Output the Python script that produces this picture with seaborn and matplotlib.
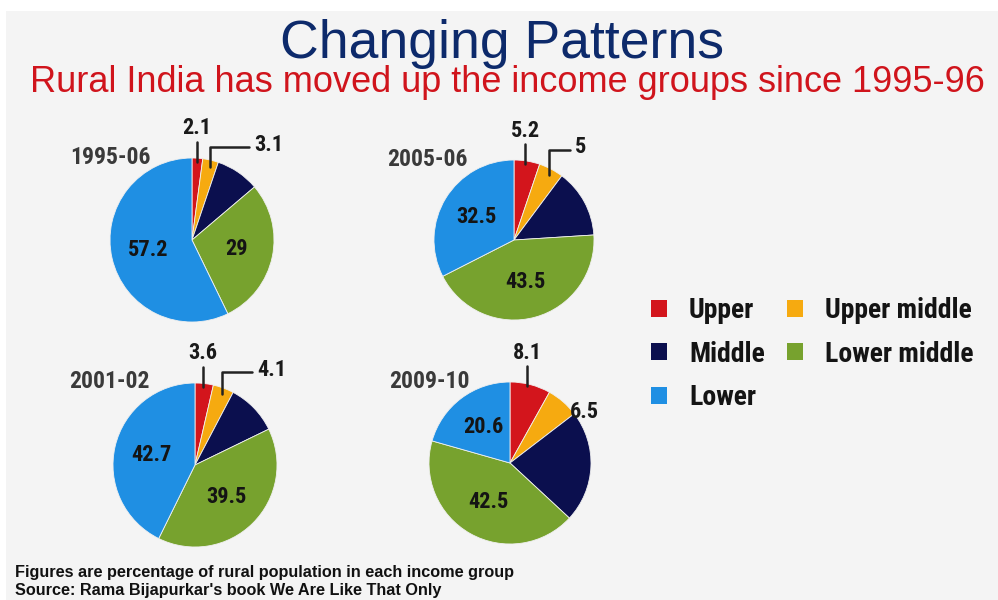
import numpy as np
import matplotlib
matplotlib.use("Agg")
import matplotlib.pyplot as plt
from matplotlib import font_manager as fm
from matplotlib.patches import Rectangle, Patch
import seaborn as sns

# ---- data -------------------------------------------------------------
years = ["1995-06", "2005-06", "2001-02", "2009-10"]
groups = ["Upper", "Upper middle", "Middle", "Lower middle", "Lower"]
upper = [2.1, 5.2, 3.6, 8.1]
upper_middle = [3.1, 5.0, 4.1, 6.5]
middle = [8.6, 13.8, 10.1, 22.3]
lower_middle = [29.0, 43.5, 39.5, 42.5]
lower = [57.2, 32.5, 42.7, 20.6]

colors = ["#d3151c", "#f6aa10", "#0b0f4e", "#77a22e", "#1f8fe3"]

title = "Changing Patterns"
subtitle = "Rural India has moved up the income groups since 1995-96"
notes = ["Figures are percentage of rural population in each income group",
         "Source: Rama Bijapurkar's book We Are Like That Only"]

# ---- fonts ------------------------------------------------------------
sns.set_theme(style="white")
plt.rcParams["font.family"] = ["Liberation Sans", "DejaVu Sans"]


def pick_condensed():
    """Return text kwargs for a narrow bold face, plus a size factor."""
    tries = [
        (dict(family="Liberation Sans Narrow"), 1.0),
        (dict(family="Roboto Condensed"), 1.0),
        (dict(family="DejaVu Sans", fontstretch="condensed"), 0.92),
    ]
    for kw, f in tries:
        fp = fm.FontProperties(family=kw["family"], weight="bold",
                               stretch=kw.get("fontstretch", "normal"))
        try:
            path = fm.findfont(fp, fallback_to_default=False)
        except Exception:
            continue
        name = path.lower()
        if "narrow" in name or "condensed" in name:
            return kw, f
    return dict(family="Liberation Sans"), 0.86


COND, SF = pick_condensed()

# ---- layout (pixel based) ---------------------------------------------
W, H = 998, 600
fig = plt.figure(figsize=(W / 100, H / 100), dpi=100)
fig.patch.set_facecolor("white")


def fx(x):
    return x / W


def fy(y):
    return 1 - y / H


fig.add_artist(Rectangle((fx(6), 0), 1, fy(11), transform=fig.transFigure,
                         facecolor="#f4f4f4", edgecolor="none", zorder=-10))

fig.text(fx(502), fy(44), title, ha="center", va="center", fontsize=38.5,
         color="#0d2a6b")
fig.text(fx(507), fy(83), subtitle, ha="center", va="center", fontsize=26,
         color="#d0141c")

# pie centres / radius in pixels
centres = [(192, 240, 82), (514, 240, 80), (195, 465, 82), (510, 463, 81)]
year_pos = [(110, 157), (427, 160), (109, 382), (429, 382)]
um_leader = [True, True, True, False]

for i, (cx, cy, r) in enumerate(centres):
    ax = fig.add_axes([fx(cx - r), fy(cy + r), 2 * r / W, 2 * r / H])
    vals = [upper[i], upper_middle[i], middle[i], lower_middle[i], lower[i]]
    wedges, _ = ax.pie(vals, colors=colors, startangle=90, counterclock=False,
                       wedgeprops=dict(edgecolor="#f0f0f0", linewidth=0.6))
    ax.set_xlim(-1, 1)
    ax.set_ylim(-1, 1)

    # mid angles (clockwise from 12 o'clock)
    cum = np.cumsum([0] + vals[:-1])
    mids = [(c + v / 2) / sum(vals) * 2 * np.pi for c, v in zip(cum, vals)]

    # labels inside the two big slices
    for k in (3, 4):
        a = mids[k]
        ax.text(0.55 * np.sin(a), 0.55 * np.cos(a), f"{vals[k]:g}",
                ha="center", va="center", fontsize=16 * SF, fontweight="bold",
                color="#141414", **COND)

    # Upper: vertical leader with value on top
    a = mids[0]
    x0 = 0.85 * np.sin(a)
    ax.plot([x0, x0], [0.95, 1.2], color="#222222", lw=1.8, clip_on=False)
    ax.text(x0, 1.36, f"{vals[0]:g}", ha="center", va="center",
            fontsize=16 * SF, fontweight="bold", color="#1a1a1a", **COND)

    # Upper middle: elbow leader
    a = mids[1]
    if um_leader[i]:
        x1 = 0.95 * np.sin(a)
        y1 = 0.95 * np.cos(a)
        ax.plot([x1, x1, 0.7], [y1 - 0.03, 1.13, 1.13], color="#222222",
                lw=1.8, clip_on=False)
        ax.text(0.76, 1.16, f"{vals[1]:g}", ha="left", va="center",
                fontsize=16 * SF, fontweight="bold", color="#1a1a1a", **COND)
    else:
        ax.text(0.97 * np.sin(a + 0.15), 0.97 * np.cos(a + 0.15),
                f"{vals[1]:g}", ha="left", va="center", fontsize=16 * SF,
                fontweight="bold", color="#1a1a1a", **COND)

    yx, yy = year_pos[i]
    fig.text(fx(yx), fy(yy), years[i], ha="center", va="center",
             fontsize=17 * SF, fontweight="bold", color="#3a3a3a", **COND)

# legend: rows Upper | Upper middle, Middle | Lower middle, Lower
order = [0, 2, 4, 1, 3]
handles = [Patch(facecolor=colors[k], edgecolor="none") for k in order]
labels = [groups[k] for k in order]
leg_size = 20 * SF
u = leg_size * 1.39
leg = fig.legend(handles, labels, ncol=2, frameon=False,
                 loc="upper left", bbox_to_anchor=(fx(626), fy(272)),
                 prop=fm.FontProperties(family=COND["family"], weight="bold",
                                        stretch=COND.get("fontstretch",
                                                         "normal"),
                                        size=leg_size),
                 handlelength=16 / u, handleheight=16 / u,
                 handletextpad=22 / u, columnspacing=22 / u,
                 labelspacing=0.6)
for t in leg.get_texts():
    t.set_color("#141414")

for j, line in enumerate(notes):
    fig.text(fx(15), fy(572 + 18 * j), line, ha="left", va="center",
             fontsize=11.7, fontweight="bold", color="#111111")

fig.savefig("out.png", dpi=100, facecolor=fig.get_facecolor())
